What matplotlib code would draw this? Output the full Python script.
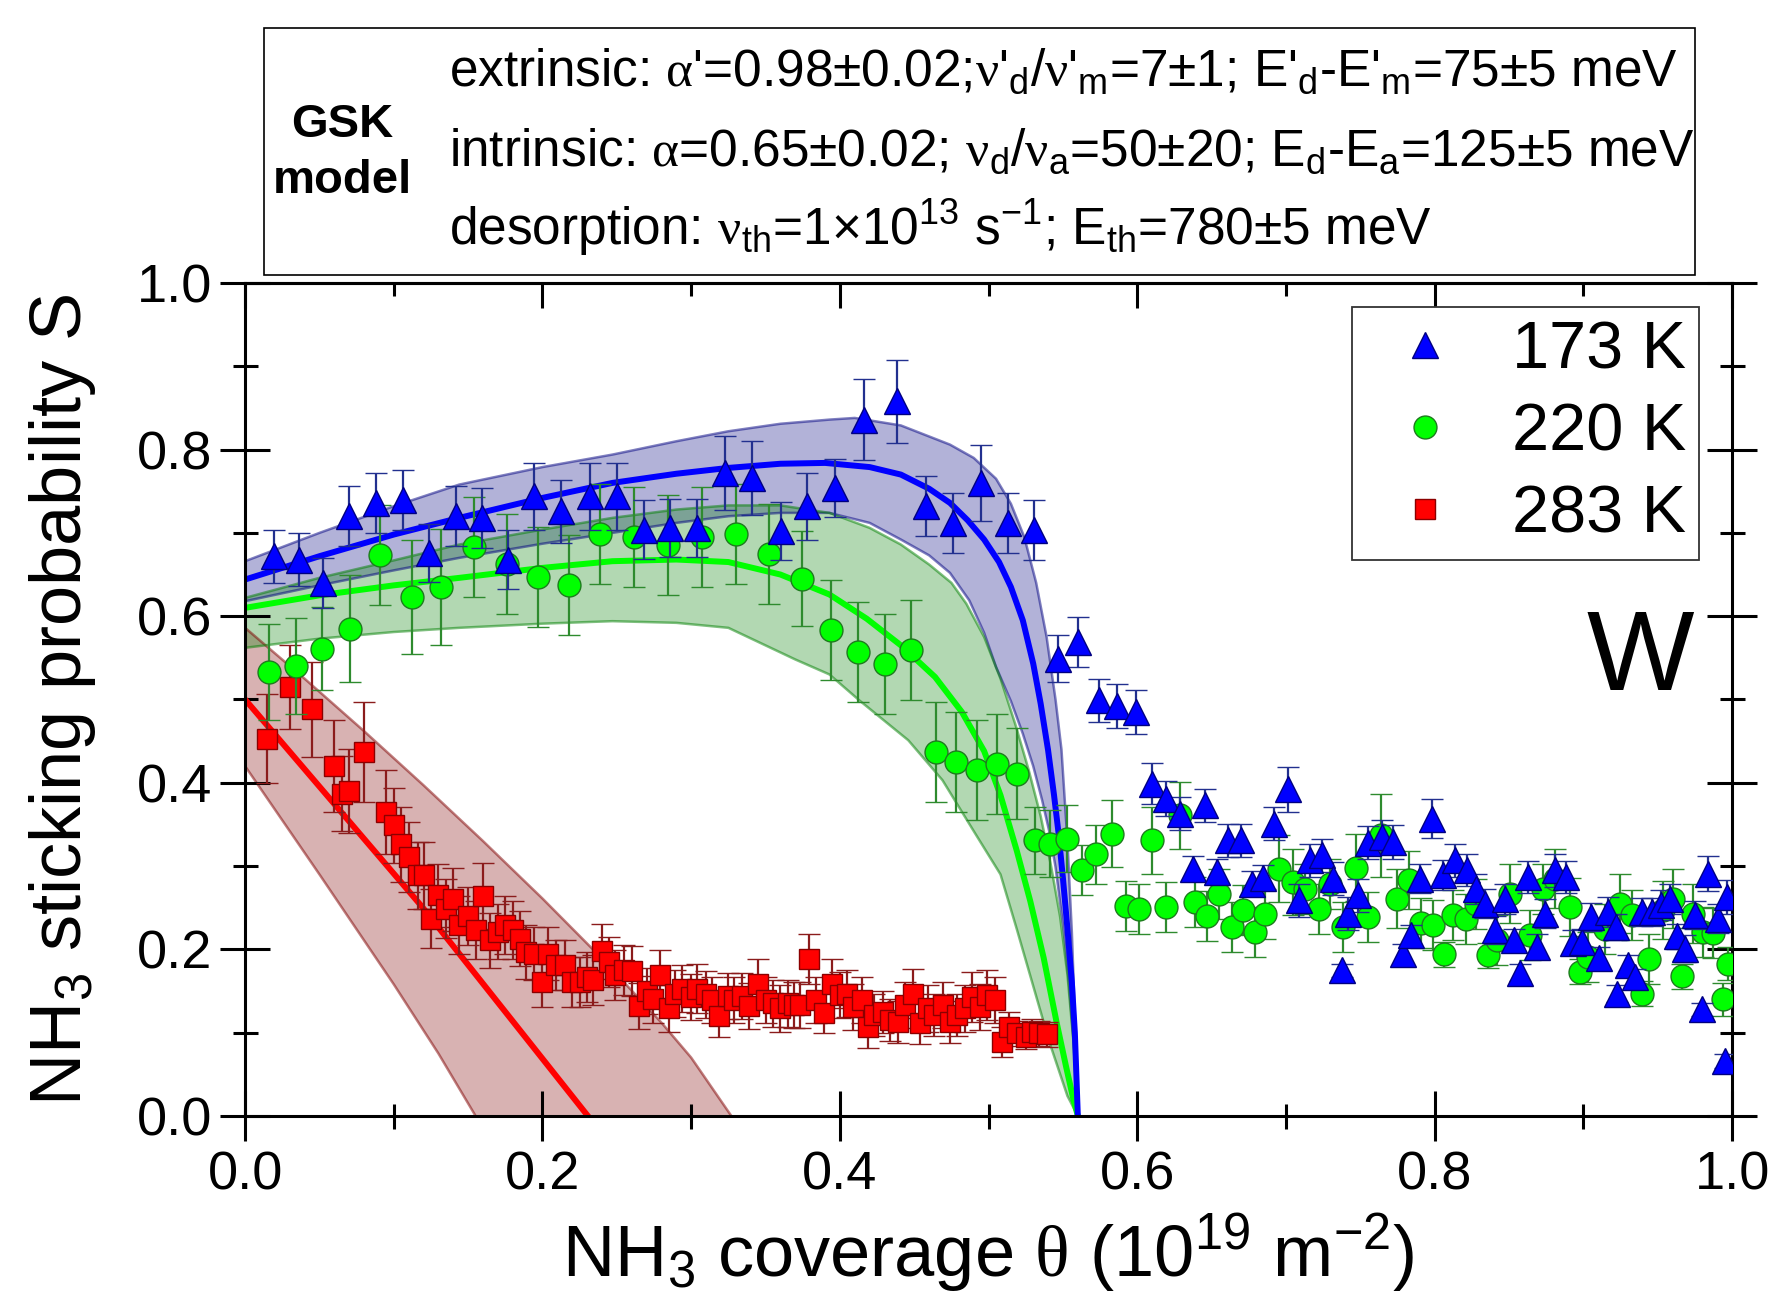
import numpy as np
import matplotlib
matplotlib.use("Agg")
import matplotlib.pyplot as plt
from matplotlib.lines import Line2D
from matplotlib.patches import Rectangle
from matplotlib.ticker import MultipleLocator

plt.rcParams['font.family'] = 'Liberation Sans'
plt.rcParams['mathtext.fontset'] = 'custom'
plt.rcParams['mathtext.rm'] = 'Liberation Sans'
plt.rcParams['mathtext.it'] = 'Liberation Sans:italic'
plt.rcParams['mathtext.bf'] = 'Liberation Sans:bold'
plt.rcParams['mathtext.sf'] = 'Liberation Serif'

# ---- measured sticking probability, 173 K ----
b_x = [0.0195, 0.0362, 0.0522, 0.0697, 0.0877, 0.1063, 0.1237, 0.1418, 0.159, 0.1765,
       0.1945, 0.2125, 0.2318, 0.2498, 0.2684, 0.2859, 0.3039, 0.3227, 0.3412, 0.3605,
       0.378, 0.3968, 0.4165, 0.4382, 0.458, 0.476, 0.4947, 0.513, 0.5308, 0.5465,
       0.5604, 0.5743, 0.5866, 0.5992, 0.6102, 0.6194, 0.629, 0.6373, 0.6456, 0.6535,
       0.6613, 0.6696, 0.677, 0.6842, 0.692, 0.7012, 0.709, 0.7162, 0.724, 0.7315,
       0.7375, 0.742, 0.7487, 0.7554, 0.7644, 0.7722, 0.779, 0.7839, 0.7902, 0.798,
       0.8059, 0.8137, 0.8216, 0.8278, 0.8339, 0.8406, 0.8473, 0.853, 0.8574, 0.863,
       0.8686, 0.8742, 0.881, 0.8884, 0.8933, 0.8993, 0.905, 0.9108, 0.9162, 0.9219,
       0.9225, 0.9303, 0.9348, 0.9392, 0.946, 0.952, 0.9583, 0.963, 0.9684, 0.9747,
       0.9796, 0.9841, 0.9908, 0.9953, 0.9964]
b_s = [0.672, 0.668, 0.640, 0.720, 0.736, 0.740, 0.676, 0.720, 0.718, 0.668,
       0.744, 0.726, 0.744, 0.744, 0.704, 0.706, 0.706, 0.772, 0.766, 0.702,
       0.732, 0.754, 0.836, 0.858, 0.732, 0.712, 0.760, 0.712, 0.703, 0.549,
       0.569, 0.499, 0.492, 0.485, 0.399, 0.381, 0.363, 0.297, 0.373, 0.293,
       0.331, 0.331, 0.279, 0.286, 0.351, 0.392, 0.259, 0.307, 0.313, 0.285,
       0.175, 0.243, 0.265, 0.328, 0.335, 0.329, 0.195, 0.217, 0.285, 0.357,
       0.289, 0.307, 0.295, 0.273, 0.255, 0.223, 0.261, 0.211, 0.172, 0.287,
       0.203, 0.243, 0.295, 0.287, 0.208, 0.209, 0.239, 0.190, 0.245, 0.227,
       0.147, 0.181, 0.167, 0.245, 0.245, 0.253, 0.261, 0.216, 0.201, 0.241,
       0.128, 0.291, 0.237, 0.066, 0.263]
b_err = [0.032, 0.032, 0.030, 0.036, 0.036, 0.036, 0.035, 0.036, 0.036, 0.035,
         0.040, 0.038, 0.040, 0.040, 0.035, 0.035, 0.035, 0.044, 0.044, 0.035,
         0.040, 0.035, 0.049, 0.050, 0.036, 0.036, 0.046, 0.036, 0.036, 0.028,
         0.030, 0.026, 0.026, 0.026, 0.025, 0.021, 0.020, 0.015, 0.020, 0.015,
         0.020, 0.020, 0.015, 0.015, 0.020, 0.027, 0.020, 0.020, 0.020, 0.020,
         0.008, 0.020, 0.020, 0.020, 0.020, 0.020, 0.012, 0.012, 0.017, 0.023,
         0.018, 0.020, 0.019, 0.018, 0.017, 0.017, 0.018, 0.013, 0.010, 0.019,
         0.015, 0.017, 0.020, 0.019, 0.015, 0.015, 0.017, 0.013, 0.018, 0.016,
         0.010, 0.012, 0.010, 0.017, 0.017, 0.018, 0.018, 0.015, 0.016, 0.017,
         0.008, 0.021, 0.017, 0.008, 0.020]

# ---- 220 K ----
g_x = [0.0164, 0.0342, 0.0517, 0.0705, 0.091, 0.112, 0.132, 0.154, 0.176, 0.197,
       0.2177, 0.239, 0.2615, 0.2846, 0.307, 0.330, 0.352, 0.3745, 0.394, 0.412,
       0.430, 0.448, 0.4645, 0.478, 0.492, 0.5055, 0.519, 0.531, 0.541, 0.5526,
       0.5627, 0.572, 0.583, 0.5925, 0.601, 0.610, 0.619, 0.629, 0.639, 0.647,
       0.655, 0.6635, 0.671, 0.679, 0.686, 0.695, 0.7045, 0.713, 0.722, 0.7297,
       0.7386, 0.747, 0.7554, 0.764, 0.7745, 0.783, 0.791, 0.799, 0.806, 0.8126,
       0.821, 0.828, 0.836, 0.842, 0.8507, 0.864, 0.873, 0.881, 0.891, 0.898,
       0.9034, 0.9146, 0.9247, 0.9325, 0.9392, 0.9444, 0.9538, 0.9605, 0.966, 0.974,
       0.9807, 0.9874, 0.994, 0.9975]
g_s = [0.533, 0.540, 0.561, 0.585, 0.673, 0.623, 0.635, 0.683, 0.663, 0.647,
       0.637, 0.699, 0.695, 0.685, 0.695, 0.699, 0.675, 0.645, 0.583, 0.557,
       0.543, 0.559, 0.437, 0.425, 0.415, 0.423, 0.411, 0.331, 0.327, 0.333,
       0.295, 0.314, 0.339, 0.252, 0.249, 0.331, 0.251, 0.361, 0.257, 0.240,
       0.267, 0.227, 0.247, 0.221, 0.243, 0.297, 0.281, 0.273, 0.249, 0.279,
       0.227, 0.298, 0.239, 0.337, 0.261, 0.283, 0.232, 0.229, 0.194, 0.241,
       0.237, 0.255, 0.193, 0.211, 0.267, 0.217, 0.273, 0.285, 0.251, 0.173,
       0.191, 0.225, 0.255, 0.241, 0.147, 0.189, 0.247, 0.261, 0.168, 0.243,
       0.221, 0.220, 0.140, 0.183]
g_err = [0.058, 0.058, 0.050, 0.064, 0.060, 0.068, 0.070, 0.060, 0.060, 0.060,
         0.060, 0.060, 0.060, 0.060, 0.060, 0.060, 0.060, 0.057, 0.060, 0.060,
         0.060, 0.060, 0.060, 0.060, 0.060, 0.060, 0.055, 0.040, 0.040, 0.040,
         0.030, 0.035, 0.040, 0.030, 0.030, 0.040, 0.030, 0.040, 0.030, 0.030,
         0.030, 0.030, 0.030, 0.030, 0.030, 0.040, 0.040, 0.030, 0.030, 0.030,
         0.030, 0.040, 0.030, 0.050, 0.035, 0.035, 0.030, 0.030, 0.015, 0.030,
         0.030, 0.030, 0.015, 0.030, 0.035, 0.030, 0.030, 0.035, 0.035, 0.015,
         0.030, 0.030, 0.035, 0.030, 0.015, 0.030, 0.035, 0.035, 0.015, 0.035,
         0.030, 0.030, 0.020, 0.020]

# ---- 283 K ----
r_x = [0.015, 0.030, 0.045, 0.060, 0.065, 0.070, 0.080, 0.095, 0.100, 0.105,
       0.110, 0.116, 0.120, 0.125, 0.130, 0.135, 0.140, 0.144, 0.150, 0.155,
       0.160, 0.165, 0.170, 0.175, 0.180, 0.185, 0.189, 0.194, 0.200, 0.204,
       0.209, 0.215, 0.220, 0.225, 0.230, 0.234, 0.240, 0.245, 0.249, 0.255,
       0.260, 0.265, 0.270, 0.274, 0.279, 0.285, 0.289, 0.294, 0.300, 0.304,
       0.310, 0.314, 0.319, 0.325, 0.329, 0.334, 0.339, 0.345, 0.350, 0.355,
       0.360, 0.365, 0.369, 0.373, 0.379, 0.384, 0.389, 0.395, 0.400, 0.405,
       0.409, 0.415, 0.419, 0.423, 0.429, 0.434, 0.439, 0.444, 0.449, 0.454,
       0.459, 0.463, 0.469, 0.474, 0.479, 0.484, 0.489, 0.494, 0.499, 0.504,
       0.509, 0.514, 0.519, 0.525, 0.529, 0.534, 0.539]
r_s = [0.453, 0.515, 0.488, 0.420, 0.387, 0.390, 0.437, 0.365, 0.349, 0.326,
       0.311, 0.289, 0.289, 0.237, 0.265, 0.249, 0.260, 0.229, 0.240, 0.223,
       0.264, 0.211, 0.221, 0.229, 0.223, 0.213, 0.197, 0.195, 0.161, 0.195,
       0.181, 0.181, 0.161, 0.161, 0.167, 0.163, 0.198, 0.185, 0.169, 0.175,
       0.174, 0.132, 0.150, 0.140, 0.169, 0.129, 0.147, 0.153, 0.143, 0.153,
       0.146, 0.139, 0.120, 0.144, 0.139, 0.144, 0.132, 0.158, 0.139, 0.135,
       0.129, 0.135, 0.133, 0.133, 0.188, 0.139, 0.124, 0.159, 0.145, 0.147,
       0.131, 0.139, 0.107, 0.121, 0.125, 0.115, 0.113, 0.133, 0.147, 0.111,
       0.129, 0.121, 0.133, 0.113, 0.121, 0.129, 0.143, 0.131, 0.145, 0.139,
       0.089, 0.107, 0.099, 0.095, 0.101, 0.099, 0.098]
r_err = [0.053, 0.050, 0.057, 0.055, 0.045, 0.050, 0.060, 0.050, 0.045, 0.045,
         0.042, 0.040, 0.040, 0.035, 0.038, 0.035, 0.038, 0.035, 0.035, 0.035,
         0.040, 0.033, 0.033, 0.035, 0.035, 0.033, 0.032, 0.032, 0.030, 0.032,
         0.030, 0.030, 0.030, 0.030, 0.030, 0.030, 0.033, 0.030, 0.030, 0.030,
         0.030, 0.028, 0.028, 0.028, 0.030, 0.028, 0.028, 0.028, 0.028, 0.030,
         0.028, 0.028, 0.025, 0.028, 0.028, 0.028, 0.028, 0.030, 0.028, 0.028,
         0.028, 0.028, 0.028, 0.028, 0.030, 0.028, 0.025, 0.030, 0.028, 0.028,
         0.028, 0.028, 0.025, 0.025, 0.025, 0.025, 0.025, 0.028, 0.030, 0.025,
         0.028, 0.025, 0.028, 0.025, 0.025, 0.028, 0.030, 0.028, 0.030, 0.028,
         0.018, 0.018, 0.015, 0.015, 0.015, 0.015, 0.015]

# ---- GSK model curves (fit and uncertainty bounds) ----
bfit_x = [0, 0.05, 0.10, 0.144, 0.20, 0.247, 0.29, 0.325, 0.36, 0.39, 0.42, 0.441,
          0.46, 0.474, 0.486, 0.497, 0.507, 0.515, 0.523, 0.530, 0.535, 0.540,
          0.544, 0.547, 0.550, 0.553, 0.556, 0.558, 0.560]
bfit_y = [0.644, 0.672, 0.698, 0.718, 0.742, 0.760, 0.771, 0.778, 0.783, 0.784, 0.779,
          0.770, 0.753, 0.736, 0.715, 0.692, 0.665, 0.635, 0.595, 0.543, 0.495, 0.439,
          0.385, 0.340, 0.285, 0.225, 0.160, 0.100, 0.0]
bhi_x = [0, 0.05, 0.10, 0.144, 0.20, 0.247, 0.29, 0.325, 0.36, 0.393, 0.41, 0.441,
         0.474, 0.49, 0.505, 0.515, 0.524, 0.532, 0.539, 0.545, 0.549, 0.553, 0.556,
         0.558, 0.560]
bhi_y = [0.666, 0.700, 0.732, 0.758, 0.779, 0.794, 0.810, 0.822, 0.831, 0.836, 0.838,
         0.829, 0.806, 0.790, 0.765, 0.735, 0.695, 0.640, 0.575, 0.500, 0.440, 0.330,
         0.220, 0.120, 0.0]
blo_x = [0, 0.05, 0.10, 0.144, 0.20, 0.247, 0.29, 0.325, 0.36, 0.393, 0.42, 0.441,
         0.46, 0.474, 0.487, 0.497, 0.505, 0.515, 0.523, 0.530, 0.536, 0.541, 0.545,
         0.550, 0.554, 0.558, 0.560]
blo_y = [0.618, 0.637, 0.655, 0.670, 0.687, 0.700, 0.712, 0.720, 0.724, 0.724, 0.712,
         0.692, 0.673, 0.652, 0.619, 0.580, 0.539, 0.498, 0.459, 0.420, 0.379, 0.340,
         0.299, 0.230, 0.160, 0.070, 0.0]

gfit_x = [0, 0.05, 0.10, 0.144, 0.20, 0.247, 0.29, 0.325, 0.36, 0.393, 0.418, 0.441,
          0.464, 0.482, 0.497, 0.508, 0.519, 0.528, 0.537, 0.546, 0.552, 0.557, 0.560]
gfit_y = [0.610, 0.625, 0.637, 0.646, 0.658, 0.666, 0.668, 0.665, 0.650, 0.626, 0.597,
          0.565, 0.527, 0.485, 0.438, 0.385, 0.318, 0.258, 0.190, 0.110, 0.060, 0.020, 0.0]
ghi_x = [0, 0.05, 0.10, 0.144, 0.20, 0.247, 0.29, 0.325, 0.36, 0.393, 0.42, 0.441,
         0.46, 0.475, 0.485, 0.497, 0.508, 0.518, 0.527, 0.535, 0.542, 0.548, 0.553,
         0.557, 0.560]
ghi_y = [0.622, 0.646, 0.667, 0.686, 0.704, 0.718, 0.728, 0.733, 0.733, 0.724, 0.706,
         0.686, 0.662, 0.640, 0.615, 0.575, 0.525, 0.470, 0.415, 0.360, 0.300, 0.240,
         0.170, 0.090, 0.0]
glo_x = [0, 0.05, 0.10, 0.144, 0.20, 0.247, 0.29, 0.325, 0.37, 0.393, 0.413, 0.446,
         0.469, 0.491, 0.508, 0.519, 0.530, 0.541, 0.553, 0.560]
glo_y = [0.562, 0.573, 0.581, 0.586, 0.591, 0.594, 0.592, 0.586, 0.548, 0.530, 0.499,
         0.451, 0.403, 0.339, 0.290, 0.224, 0.156, 0.088, 0.024, 0.0]

rfit_x = [0, 0.1186, 0.2305]
rfit_y = [0.500, 0.252, 0.0]
rhi_x = [0, 0.04, 0.08, 0.12, 0.16, 0.20, 0.24, 0.28, 0.30, 0.327]
rhi_y = [0.586, 0.525, 0.462, 0.397, 0.330, 0.261, 0.189, 0.112, 0.070, 0.0]
rlo_x = [0, 0.05, 0.10, 0.13, 0.155]
rlo_y = [0.420, 0.290, 0.158, 0.075, 0.0]

labels = ['173 K', '220 K', '283 K']

fig = plt.figure(figsize=(17.76, 12.94), dpi=100)
ax = fig.add_axes([0.1380, 0.1376, 0.8373, 0.6437])

# uncertainty bands
def band(hx, hy, lx, ly, c):
    px = np.r_[hx, lx[::-1]]
    py = np.r_[hy, ly[::-1]]
    ax.fill(px, py, color=c, alpha=0.3, lw=0, zorder=1)
    ax.plot(hx, hy, color=c, alpha=0.5, lw=1.8, zorder=1.5)
    ax.plot(lx, ly, color=c, alpha=0.5, lw=1.8, zorder=1.5)

band(rhi_x, rhi_y, rlo_x, rlo_y, '#800000')
band(bhi_x, bhi_y, blo_x, blo_y, '#000080')
band(ghi_x, ghi_y, glo_x, glo_y, '#008000')

ax.plot(rfit_x, rfit_y, color='#ff0000', lw=4.3, zorder=2)
ax.plot(gfit_x, gfit_y, color='#00ff00', lw=4.3, zorder=2)
ax.plot(bfit_x, bfit_y, color='#0000ff', lw=4.3, zorder=2)

ax.errorbar(r_x, r_s, yerr=r_err, fmt='s', ms=14, mfc='#ff0000', mec='#8b0000',
            mew=1.0, ecolor='#8b1c1c', elinewidth=1.6, capsize=8, capthick=1.6, zorder=3)
ax.errorbar(g_x, g_s, yerr=g_err, fmt='o', ms=16.5, mfc='#00ff00', mec='#1e7b1e',
            mew=1.0, ecolor='#2e8b2e', elinewidth=1.6, capsize=8, capthick=1.6, zorder=4)
ax.errorbar(b_x, b_s, yerr=b_err, fmt='^', ms=19, mfc='#0000ff', mec='#000080',
            mew=1.0, ecolor='#22308f', elinewidth=1.6, capsize=8, capthick=1.6, zorder=5)

ax.set_xlim(0, 1)
ax.set_ylim(0, 1)
ax.xaxis.set_major_locator(MultipleLocator(0.2))
ax.xaxis.set_minor_locator(MultipleLocator(0.1))
ax.yaxis.set_major_locator(MultipleLocator(0.2))
ax.yaxis.set_minor_locator(MultipleLocator(0.1))
ax.tick_params(which='both', direction='inout', width=2.2, labelsize=39,
               top=False, right=True)
ax.tick_params(which='major', length=36)
ax.tick_params(which='minor', length=18)
ax.tick_params(axis='x', pad=7)
ax.tick_params(axis='y', pad=6)
for sp in ax.spines.values():
    sp.set_linewidth(2.2)

top = ax.secondary_xaxis('top')
top.xaxis.set_major_locator(MultipleLocator(0.2))
top.xaxis.set_minor_locator(MultipleLocator(0.1))
top.tick_params(which='both', direction='in', width=2.2, labeltop=False)
top.tick_params(which='major', length=18)
top.tick_params(which='minor', length=9)
top.spines['top'].set_linewidth(2.2)

ax.set_xlabel(r'NH$_\mathregular{3}$ coverage $\mathsf{\theta}$ (10$^\mathregular{19}$ m$^\mathregular{-2}$)',
              fontsize=52, va='center')
ax.xaxis.set_label_coords(0.5, -0.164)
ax.set_ylabel(r'NH$_\mathregular{3}$ sticking probability S', fontsize=52, va='center')
ax.yaxis.set_label_coords(-0.123, 0.5)

handles = [Line2D([], [], ls='none', marker='^', ms=19, mfc='#0000ff', mec='#000080'),
           Line2D([], [], ls='none', marker='o', ms=16.5, mfc='#00ff00', mec='#1e7b1e'),
           Line2D([], [], ls='none', marker='s', ms=14, mfc='#ff0000', mec='#8b0000')]
leg = ax.legend(handles, labels, loc='upper right', bbox_to_anchor=(0.978, 0.971),
                fontsize=48, frameon=True, fancybox=False, edgecolor='#333333',
                framealpha=1, borderpad=0.2, labelspacing=0.3, handletextpad=0.4,
                handlelength=1.8, borderaxespad=0)
leg.get_frame().set_linewidth(1.3)
leg.set_zorder(10)

ax.text(0.938, 0.546, 'W', fontsize=82, ha='center', va='center', transform=ax.transAxes)

# model parameter box above the axes
fig.add_artist(Rectangle((0.1486, 0.7875), 0.8057, 0.1909, transform=fig.transFigure,
                         fill=False, ec='black', lw=1.2))
fig.text(0.1926, 0.9034, 'GSK', fontsize=34, weight='bold', ha='center', va='center')
fig.text(0.1926, 0.860, 'model', fontsize=34, weight='bold', ha='center', va='center')
line1 = (r"extrinsic: $\mathsf{\alpha}$'=0.98$\pm$0.02;$\mathsf{\nu}$'$_\mathregular{d}$/"
         r"$\mathsf{\nu}$'$_\mathregular{m}$=7$\pm$1; E'$_\mathregular{d}$-E'$_\mathregular{m}$=75$\pm$5 meV")
line2 = (r"intrinsic: $\mathsf{\alpha}$=0.65$\pm$0.02; $\mathsf{\nu}_\mathregular{d}$/"
         r"$\mathsf{\nu}_\mathregular{a}$=50$\pm$20; E$_\mathregular{d}$-E$_\mathregular{a}$=125$\pm$5 meV")
line3 = (r"desorption: $\mathsf{\nu}_\mathregular{th}$=1$\times$10$^\mathregular{13}$ s$^\mathregular{-1}$; "
         r"E$_\mathregular{th}$=780$\pm$5 meV")
for s, yy in zip([line1, line2, line3], [0.934, 0.872, 0.811]):
    fig.text(0.2528, yy, s, fontsize=37, ha='left', va='baseline')

fig.savefig('out.png', dpi=100)
